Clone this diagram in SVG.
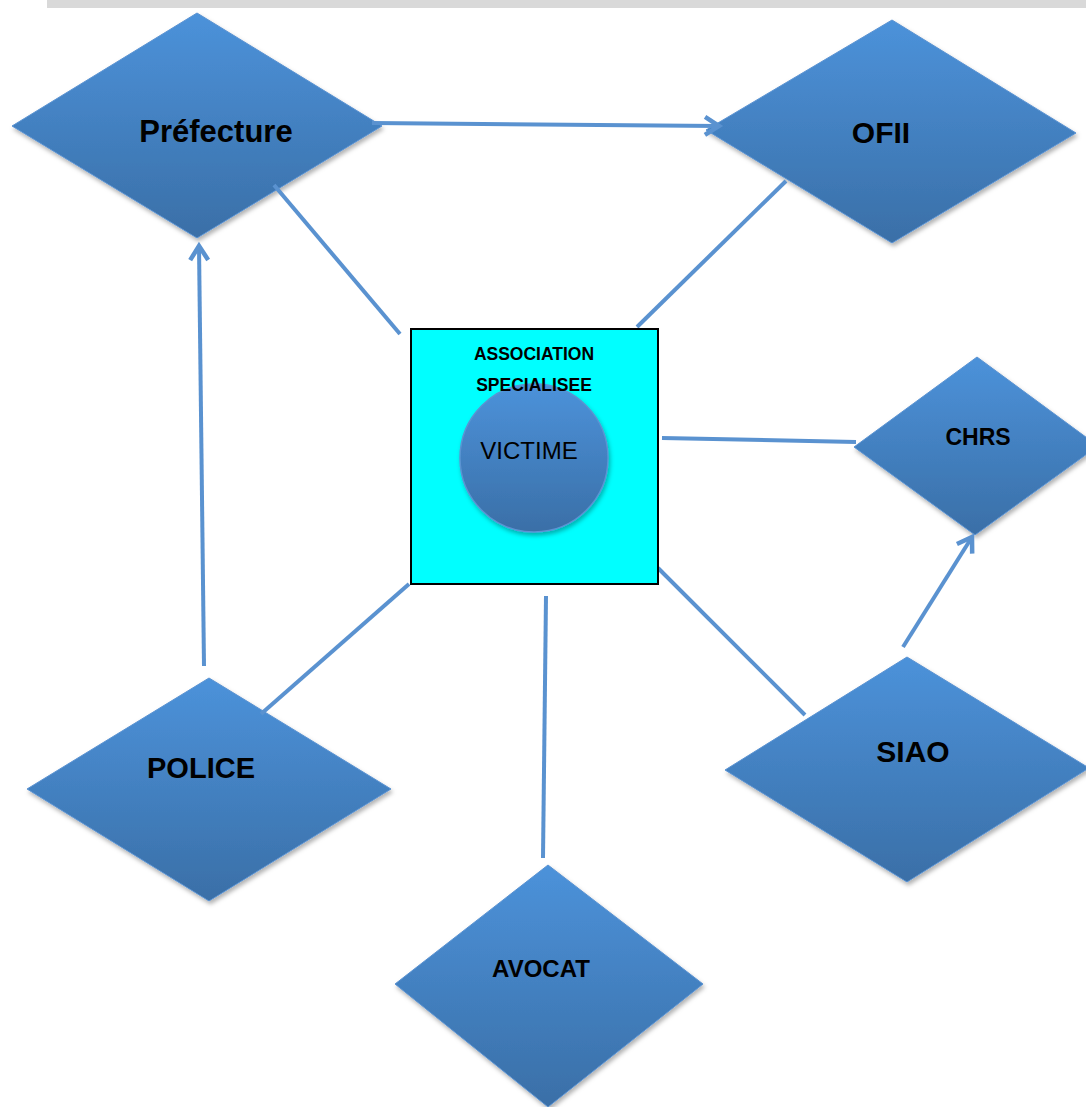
<svg xmlns="http://www.w3.org/2000/svg" width="1086" height="1107" viewBox="0 0 1086 1107">
  <defs>
    <linearGradient id="blueGrad" x1="0" y1="0" x2="0" y2="1">
      <stop offset="0" stop-color="#4c92da"/>
      <stop offset="1" stop-color="#3a6fa7"/>
    </linearGradient>
    <filter id="shadow" x="-10%" y="-10%" width="125%" height="130%">
      <feDropShadow dx="1.5" dy="3" stdDeviation="2" flood-color="#000" flood-opacity="0.3"/>
    </filter>
    <marker id="arrow" markerUnits="userSpaceOnUse" markerWidth="24" markerHeight="24" refX="17" refY="10" orient="auto" viewBox="0 0 24 20">
      <path d="M3,1 L17,10 L3,19" fill="none" stroke="#5a92d0" stroke-width="4.5" stroke-linecap="butt" stroke-linejoin="miter"/>
    </marker>
    <style>
      .diamond { fill: url(#blueGrad); stroke: #5b93d2; stroke-width: 1; filter: url(#shadow); }
      .label { font-family: "Liberation Sans", Arial, sans-serif; font-weight: bold; fill: #000; text-anchor: middle; }
      .conn { stroke: #5a92d0; stroke-width: 4; fill: none; }
    </style>
  </defs>

  <rect x="0" y="0" width="1086" height="1107" fill="#ffffff"/>
  <rect x="47" y="0" width="1039" height="8" fill="#d9d9d9"/>

  <g id="node-prefecture">
    <polygon class="diamond" points="197,13 382,126 197,238 12,126"/>
    <text class="label" x="216" y="142" font-size="31">Préfecture</text>
  </g>

  <g id="node-ofii">
    <polygon class="diamond" points="892,20 1076,133 892,243 706,130"/>
    <text class="label" x="881" y="143" font-size="30">OFII</text>
  </g>

  <g id="node-chrs">
    <polygon class="diamond" points="977,357 1098,446 975,535 854,447"/>
    <text class="label" x="978" y="445" font-size="23">CHRS</text>
  </g>

  <g id="node-siao">
    <polygon class="diamond" points="907,657 1089,768 907,882 725,770"/>
    <text class="label" x="913" y="762" font-size="30">SIAO</text>
  </g>

  <g id="node-police">
    <polygon class="diamond" points="209,678 391,789 209,901 27,789"/>
    <text class="label" x="201" y="778" font-size="29">POLICE</text>
  </g>

  <g id="node-avocat">
    <polygon class="diamond" points="548,865 703,984 548,1107 395,984"/>
    <text class="label" x="541" y="977" font-size="24">AVOCAT</text>
  </g>

  <g id="connectors">
    <line class="conn" x1="372" y1="123" x2="719" y2="126" marker-end="url(#arrow)"/>
    <line class="conn" x1="274" y1="185" x2="400" y2="334"/>
    <line class="conn" x1="786" y1="181" x2="637" y2="327"/>
    <line class="conn" x1="662" y1="438" x2="856" y2="442"/>
    <line class="conn" x1="204" y1="666" x2="199" y2="246" marker-end="url(#arrow)"/>
    <line class="conn" x1="409" y1="584" x2="261" y2="714"/>
    <line class="conn" x1="546" y1="596" x2="543" y2="858"/>
    <line class="conn" x1="658" y1="568" x2="805" y2="715"/>
    <line class="conn" x1="903" y1="647" x2="972" y2="537" marker-end="url(#arrow)"/>
  </g>

  <g id="node-association">
    <rect x="411" y="329" width="247" height="255" fill="#00ffff" stroke="#000" stroke-width="2"/>
  </g>

  <g id="node-victime">
    <circle cx="534" cy="458" r="74" fill="url(#blueGrad)" stroke="#5b93d2" stroke-width="1.5" filter="url(#shadow)"/>
    <text x="529" y="459" font-family="'Liberation Sans', Arial, sans-serif" font-size="24" fill="#000" text-anchor="middle">VICTIME</text>
  </g>

  <g id="association-label">
    <text class="label" x="534" y="360" font-size="17.5">ASSOCIATION</text>
    <text class="label" x="534" y="391" font-size="17.5">SPECIALISEE</text>
  </g>
</svg>
